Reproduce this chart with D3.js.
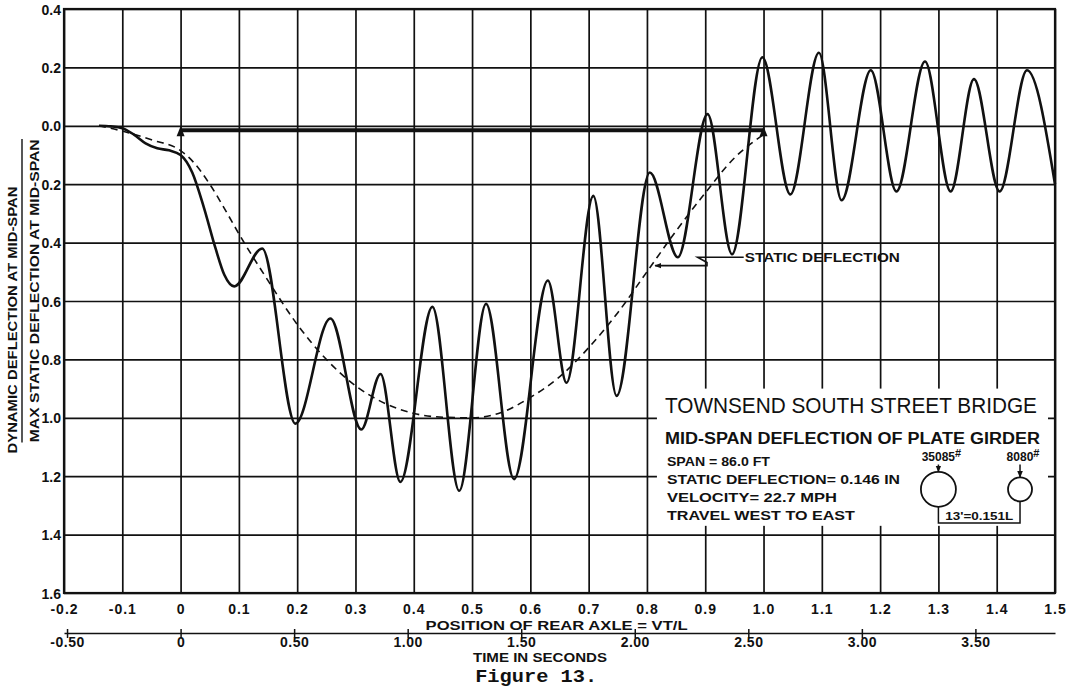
<!DOCTYPE html>
<html>
<head>
<meta charset="utf-8">
<script src="https://cdn.jsdelivr.net/npm/d3@7"></script>
<style>
body { margin: 0; background: #fff; }
svg { display: block; }
text { font-family: "Liberation Sans", Arial, sans-serif; font-weight: bold; fill: #111; }
</style>
</head>
<body>
<svg id="chart" width="1073" height="687"></svg>
<script>
// position of rear axle (VT/L) and deflection ratio ticks
var posTicks = [-0.2,-0.1,0,0.1,0.2,0.3,0.4,0.5,0.6,0.7,0.8,0.9,1.0,1.1,1.2,1.3,1.4,1.5]
var posLabels = ["-0.2","-0.1","0","0.1","0.2","0.3","0.4","0.5","0.6","0.7","0.8","0.9","1.0","1.1","1.2","1.3","1.4","1.5"]
var deflTicks = [-0.4,-0.2,0,0.2,0.4,0.6,0.8,1.0,1.2,1.4,1.6]
var deflLabels = ["0.4","0.2","0.0","0.2","0.4","0.6","0.8","1.0","1.2","1.4","1.6"]
var timeTicks = [-0.5,0,0.5,1,1.5,2,2.5,3,3.5]
var timeLabels = ["-0.50","0","0.50","1.00","1.50","2.00","2.50","3.00","3.50"]
var secPerSpan = 2.567   // time at VT/L = 1, as drawn on the chart

// dynamic deflection (solid)
var dynPos  = [-0.14,-0.12,-0.1,-0.08,-0.06,-0.04,-0.02,0,0.02,0.04,0.06,0.075,0.092,0.14,0.197,0.257,0.31,0.343,0.377,0.432,0.478,0.524,0.572,0.63,0.662,0.708,0.748,0.805,0.853,0.904,0.946,0.998,1.046,1.095,1.134,1.184,1.228,1.277,1.321,1.361,1.405,1.452,1.5]
var dynDefl = [0,0.002,0.008,0.03,0.06,0.077,0.084,0.1,0.16,0.28,0.42,0.51,0.55,0.42,1.02,0.66,1.04,0.85,1.22,0.62,1.25,0.61,1.21,0.53,0.88,0.24,0.925,0.16,0.45,-0.04,0.44,-0.235,0.235,-0.25,0.255,-0.19,0.225,-0.22,0.225,-0.16,0.225,-0.19,0.2]
// static deflection (dashed)
var staticPos  = [-0.14,-0.1,-0.05,0,0.02,0.05,0.08,0.1,0.15,0.2,0.25,0.3,0.35,0.4,0.45,0.5,0.55,0.6,0.65,0.7,0.75,0.8,0.85,0.9,0.95,1.0]
var staticDefl = [0,0.018,0.048,0.085,0.12,0.2,0.3,0.37,0.53,0.68,0.8,0.89,0.95,0.985,0.998,1.0,0.982,0.93,0.86,0.76,0.64,0.5,0.36,0.23,0.11,0.03]

var titleMain = "TOWNSEND SOUTH STREET BRIDGE"
var titleSub = "MID-SPAN DEFLECTION OF PLATE GIRDER"
var legendLines = ["SPAN = 86.0 FT","STATIC DEFLECTION= 0.146 IN","VELOCITY= 22.7 MPH","TRAVEL WEST TO EAST"]
var axleLoads = ["35085","8080"]
var axleSpacing = "13'=0.151L"

var svg = d3.select("#chart")
var ink = "#111"

var x = d3.scaleLinear().domain([-0.2, 1.5]).range([64, 1055])
var y = d3.scaleLinear().domain([-0.4, 1.6]).range([9, 593])
var xTime = d3.scaleLinear()
  .domain([x.domain()[0]*secPerSpan, x.domain()[1]*secPerSpan])
  .range(x.range())

var defs = svg.append("defs")
defs.append("marker").attr("id","arr").attr("viewBox","0 0 10 10")
  .attr("refX",9).attr("refY",5).attr("markerWidth",7).attr("markerHeight",7)
  .attr("markerUnits","userSpaceOnUse").attr("orient","auto")
  .append("path").attr("d","M0,1 L10,5 L0,9 Z").attr("fill",ink)

// grid
var W = x(1.5) - x(-0.2), H = y(1.6) - y(-0.4)
svg.append("g").attr("class","grid")
  .attr("transform","translate(0,"+y(1.6)+")")
  .call(d3.axisBottom(x).tickValues(posTicks).tickSize(-H).tickFormat(""))
  .call(function(g){ g.select(".domain").remove() })
svg.append("g").attr("class","grid")
  .attr("transform","translate("+x(-0.2)+",0)")
  .call(d3.axisLeft(y).tickValues(deflTicks).tickSize(-W).tickFormat(""))
  .call(function(g){ g.select(".domain").remove() })
svg.selectAll(".grid line").attr("stroke",ink).attr("stroke-width",1.7)

svg.append("rect")
  .attr("x",x(-0.2)).attr("y",y(-0.4)).attr("width",W).attr("height",H)
  .attr("fill","none").attr("stroke",ink).attr("stroke-width",2.2)

// x tick labels
var xl = svg.append("g").attr("transform","translate(0,"+y(1.6)+")")
  .call(d3.axisBottom(x).tickValues(posTicks).tickSize(0).tickFormat(function(d,i){return posLabels[i]}))
xl.select(".domain").remove()
xl.selectAll("text").attr("y",21).attr("dy",null)
  .attr("font-size",14).attr("font-family",null).attr("letter-spacing",1)

// y tick labels
var yl = svg.append("g").attr("transform","translate("+(x(-0.2)-1)+",0)")
  .call(d3.axisLeft(y).tickValues(deflTicks).tickSize(0).tickPadding(2).tickFormat(function(d,i){return deflLabels[i]}))
yl.select(".domain").remove()
yl.selectAll("text").attr("font-size",14).attr("font-family",null).attr("dy","0.36em")

// time axis
var tAxisY = 633
var tl = svg.append("g").attr("transform","translate(0,"+tAxisY+")")
  .call(d3.axisBottom(xTime).tickValues(timeTicks).tickSizeOuter(0).tickFormat(function(d,i){return timeLabels[i]}))
tl.select(".domain").attr("stroke",ink).attr("stroke-width",1.7)
tl.selectAll(".tick line").attr("y1",-4).attr("y2",5).attr("stroke",ink).attr("stroke-width",1.5)
tl.selectAll("text").attr("y",14).attr("dy",null)
  .attr("font-size",14).attr("font-family",null).attr("letter-spacing",0.5)

svg.append("text").attr("x",(x(0.42)+x(0.87))/2).attr("y",630)
  .attr("text-anchor","middle").attr("font-size",13)
  .attr("textLength",262).attr("lengthAdjust","spacingAndGlyphs")
  .text("POSITION OF REAR AXLE = VT/L")
svg.append("text").attr("x",(x(0.5)+x(0.733))/2).attr("y",662)
  .attr("text-anchor","middle").attr("font-size",13)
  .attr("textLength",134).attr("lengthAdjust","spacingAndGlyphs")
  .text("TIME IN SECONDS")
svg.append("text").attr("x",(x(0.5)+x(0.72))/2).attr("y",682)
  .attr("text-anchor","middle").attr("font-size",18)
  .style("font-family","'Liberation Mono', 'DejaVu Sans Mono', monospace").style("font-weight","bold")
  .attr("textLength",122).attr("lengthAdjust","spacingAndGlyphs")
  .text("Figure 13.")

// y axis title (fraction)
svg.append("text").attr("transform","translate(17,"+(y(0.25)+y(1.08))/2+") rotate(-90)")
  .attr("text-anchor","middle").attr("font-size",13)
  .attr("textLength",267).attr("lengthAdjust","spacingAndGlyphs")
  .text("DYNAMIC DEFLECTION AT MID-SPAN")
svg.append("line").attr("x1",22).attr("x2",22).attr("y1",y(0.045)).attr("y2",y(1.085))
  .attr("stroke",ink).attr("stroke-width",1.4)
svg.append("text").attr("transform","translate(39,"+(y(0.045)+y(1.085))/2+") rotate(-90)")
  .attr("text-anchor","middle").attr("font-size",13)
  .attr("textLength",303).attr("lengthAdjust","spacingAndGlyphs")
  .text("MAX STATIC DEFLECTION AT MID-SPAN")

// span occupancy bar with arrowheads
var barY = y(0.015)
svg.append("line").attr("x1",x(0)).attr("x2",x(1.0)).attr("y1",barY).attr("y2",barY)
  .attr("stroke",ink).attr("stroke-width",4)
svg.selectAll("path.tip").data([0,1.0]).enter().append("path").attr("class","tip")
  .attr("d",function(d){ var cx = x(d); return "M"+cx+","+(barY-4)+"L"+(cx-4)+","+(barY+6)+"L"+(cx+4)+","+(barY+6)+"Z" })
  .attr("fill",ink)

// curves
var line = d3.line().x(function(d){return x(d[0])}).y(function(d){return y(d[1])}).curve(d3.curveMonotoneX)
svg.append("path").datum(d3.zip(staticPos, staticDefl))
  .attr("d",line).attr("fill","none").attr("stroke",ink)
  .attr("stroke-width",1.6).attr("stroke-dasharray","7,5")
svg.append("path").datum(d3.zip(dynPos, dynDefl))
  .attr("d",line).attr("fill","none").attr("stroke",ink)
  .attr("stroke-width",2.6).attr("stroke-linejoin","round")

// static deflection leader
svg.append("path")
  .attr("d","M"+x(0.966)+","+y(0.45)+"L"+x(0.887)+","+y(0.45)+"L"+x(0.903)+","+y(0.468)
    +"L"+x(0.903)+","+y(0.479)+"L"+x(0.814)+","+y(0.479))
  .attr("fill","none").attr("stroke",ink).attr("stroke-width",1.6).attr("marker-end","url(#arr)")
svg.append("text").attr("x",x(0.968)).attr("y",y(0.467)).attr("font-size",13)
  .attr("textLength",155).attr("lengthAdjust","spacingAndGlyphs")
  .text("STATIC DEFLECTION")

// legend box
var boxL = x(0.8)+10, boxR = x(1.5)-7, boxT = y(0.9), boxB = y(1.37)
svg.append("rect").attr("x",boxL).attr("y",boxT).attr("width",boxR-boxL).attr("height",boxB-boxT)
  .attr("fill","#fff")
svg.append("text").attr("x",boxL+8).attr("y",y(0.985)).attr("font-size",22)
  .style("font-weight","normal")
  .attr("textLength",372).attr("lengthAdjust","spacingAndGlyphs")
  .text(titleMain)
svg.append("text").attr("x",boxL+8).attr("y",y(1.09)).attr("font-size",16)
  .attr("textLength",375).attr("lengthAdjust","spacingAndGlyphs")
  .text(titleSub)
var lineLens = [103,233,170,188]
svg.selectAll("text.leg").data(legendLines).enter().append("text").attr("class","leg")
  .attr("x",boxL+10).attr("y",function(d,i){return y(1.165)+i*18})
  .attr("font-size",13)
  .attr("textLength",function(d,i){return lineLens[i]}).attr("lengthAdjust","spacingAndGlyphs")
  .text(function(d){return d})

// axle diagram
var axleX = [x(1.3), x(1.44)], axleR = [17.5, 12], axleCY = y(1.245)
var loadT = svg.selectAll("text.load").data(axleLoads).enter().append("text").attr("class","load")
  .attr("x",function(d,i){return axleX[i]+3}).attr("y",y(1.148))
  .attr("text-anchor","middle").attr("font-size",12)
loadT.append("tspan").text(function(d){return d})
loadT.append("tspan").attr("dy",-4).attr("font-size",11).text("#")
svg.selectAll("line.load").data(axleX).enter().append("line").attr("class","load")
  .attr("x1",function(d){return d}).attr("x2",function(d){return d})
  .attr("y1",y(1.16)).attr("y2",function(d,i){return axleCY-axleR[i]})
  .attr("stroke",ink).attr("stroke-width",1.5).attr("marker-end","url(#arr)")
svg.selectAll("circle.axle").data(axleX).enter().append("circle").attr("class","axle")
  .attr("cx",function(d){return d}).attr("cy",axleCY).attr("r",function(d,i){return axleR[i]})
  .attr("fill","none").attr("stroke",ink).attr("stroke-width",1.8)
var dimY = y(1.36)
svg.append("path")
  .attr("d","M"+axleX[0]+","+(axleCY+axleR[0])+"L"+axleX[0]+","+dimY+"L"+axleX[1]+","+dimY+"L"+axleX[1]+","+(axleCY+axleR[1]))
  .attr("fill","none").attr("stroke",ink).attr("stroke-width",1.5)
svg.append("text").attr("x",(axleX[0]+axleX[1])/2).attr("y",dimY-3)
  .attr("text-anchor","middle").attr("font-size",11)
  .attr("textLength",68).attr("lengthAdjust","spacingAndGlyphs")
  .text(axleSpacing)
</script>
</body>
</html>
